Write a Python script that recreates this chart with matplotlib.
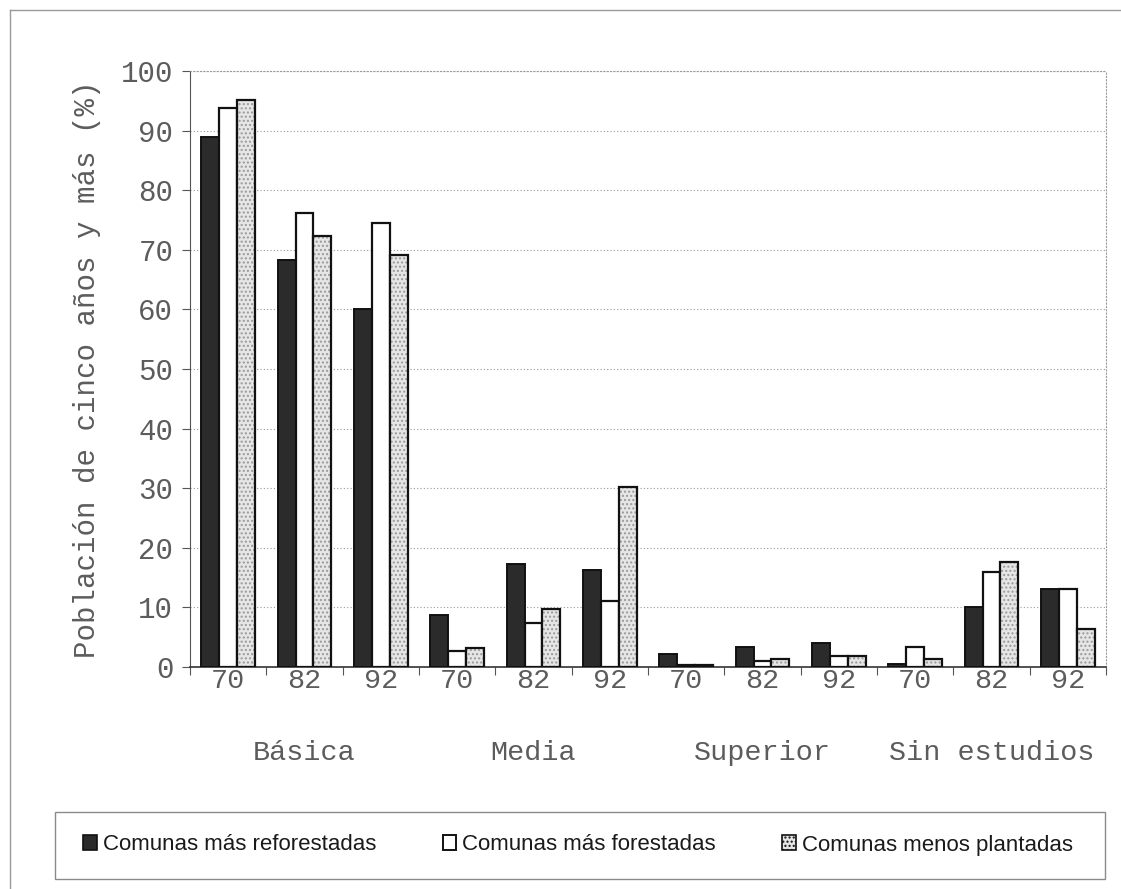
import numpy as np
import matplotlib
matplotlib.use("Agg")
import matplotlib.pyplot as plt
from matplotlib.patches import Rectangle, Patch
from matplotlib.lines import Line2D

# porcentajes por nivel de estudios y año censal
niveles = ["Básica", "Media", "Superior", "Sin estudios"]
anios = ["70", "82", "92"]
reforestadas = [89.0, 68.3, 60.0, 8.8, 17.3, 16.2, 2.2, 3.4, 4.1, 0.5, 10.1, 13.1]
forestadas = [93.8, 76.1, 74.5, 2.7, 7.4, 11.1, 0.4, 1.0, 1.9, 3.4, 15.9, 13.1]
menos_plantadas = [95.1, 72.4, 69.1, 3.2, 9.7, 30.2, 0.3, 1.4, 1.9, 1.4, 17.6, 6.4]
series = ["Comunas más reforestadas", "Comunas más forestadas", "Comunas menos plantadas"]

MONO = "Liberation Mono"
SANS = ["Liberation Sans", "DejaVu Sans"]
GRIS = "#5c5c5c"

fig = plt.figure(figsize=(11.21, 8.89), dpi=100)
ax = fig.add_axes([0.1695, 0.2497, 0.8171, 0.6704])

n = len(reforestadas)
x = np.arange(n) + 0.5
w = 0.235

ax.bar(x - w, reforestadas, w, color="#2b2b2b", edgecolor="#111111", linewidth=1.4, zorder=3)
ax.bar(x, forestadas, w, color="white", edgecolor="#111111", linewidth=1.6, zorder=3)
# relleno punteado en dos capas: trama gris y borde negro
ax.bar(x + w, menos_plantadas, w, color="#e6e6e6", edgecolor="#9a9a9a", hatch="....",
       linewidth=0, zorder=3)
ax.bar(x + w, menos_plantadas, w, fill=False, edgecolor="#111111", linewidth=1.6, zorder=4)

ax.set_xlim(0, n)
ax.set_ylim(0, 100)
ax.set_yticks(np.arange(0, 101, 10))
ax.yaxis.grid(True, linestyle=(0, (1, 2)), color="#9a9a9a", linewidth=0.8)
ax.set_axisbelow(True)

ax.set_xticks(np.arange(0, n + 1))
ax.set_xticklabels([])
ax.set_xticks(x, minor=True)
ax.set_xticklabels(anios * len(niveles), minor=True)
ax.tick_params(axis="x", which="major", direction="out", length=6, color="#555555")
ax.tick_params(axis="x", which="minor", length=0, pad=1, labelsize=20.5, labelcolor=GRIS)
ax.tick_params(axis="y", direction="out", length=6, color="#555555", labelsize=21,
               labelcolor=GRIS, pad=6)
for lab in ax.get_xticklabels(minor=True) + ax.get_yticklabels():
    lab.set_fontfamily(MONO)

for lado in ["top", "right"]:
    ax.spines[lado].set_linestyle((0, (1, 2)))
    ax.spines[lado].set_color("#9a9a9a")
    ax.spines[lado].set_linewidth(0.8)
ax.spines["left"].set_color("#555555")
ax.spines["bottom"].set_color("#333333")
ax.spines["bottom"].set_linewidth(1.2)

ax.set_ylabel("Población de cinco años y más (%)", fontfamily=MONO, fontsize=21,
              color=GRIS, labelpad=14)

# nombre del nivel bajo cada grupo de tres años
for i, nivel in enumerate(niveles):
    ax.text(3 * i + 1.5, -14.5, nivel, ha="center", va="center", fontfamily=MONO,
            fontsize=20.5, color=GRIS, transform=ax.transData, clip_on=False)

# marco exterior de la página
fig.add_artist(Line2D([10 / 1121, 1.0], [1 - 10 / 889, 1 - 10 / 889], color="#9a9a9a",
                      linewidth=1.0, transform=fig.transFigure))
fig.add_artist(Line2D([10 / 1121, 10 / 1121], [0.0, 1 - 10 / 889], color="#9a9a9a",
                      linewidth=1.0, transform=fig.transFigure))

# caja de la leyenda
fig.add_artist(Rectangle((55 / 1121, 1 - 879 / 889), (1105 - 55) / 1121, 67 / 889,
                         fill=False, edgecolor="#8a8a8a", linewidth=1.0,
                         transform=fig.transFigure))
handles = [
    Patch(facecolor="#2b2b2b", edgecolor="#111111", linewidth=1.2),
    Patch(facecolor="white", edgecolor="#111111", linewidth=1.4),
    Patch(facecolor="#e6e6e6", edgecolor="#111111", hatch="....", linewidth=1.2),
]
fig.legend(handles, series, loc="center", bbox_to_anchor=(578 / 1121, 1 - 845 / 889),
           ncol=3, frameon=False, prop={"family": SANS, "size": 16},
           handlelength=0.62, handleheight=0.62, handletextpad=0.25, columnspacing=3.0,
           labelcolor="#1a1a1a")

fig.savefig("out.png", dpi=100, facecolor="white")
